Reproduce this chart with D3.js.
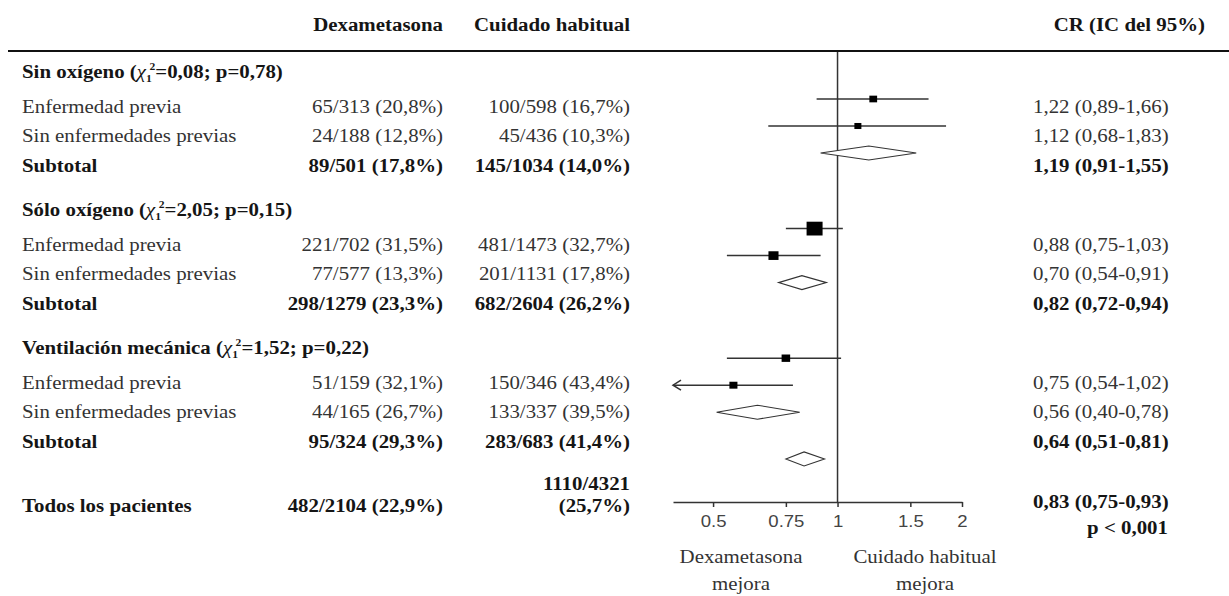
<!DOCTYPE html>
<html>
<head>
<meta charset="utf-8">
<script src="https://cdn.jsdelivr.net/npm/d3@7"></script>
<style>
  html, body { margin: 0; padding: 0; background: #fff; }
  svg { display: block; }
  text.serif { font-family: 'Liberation Serif', 'Times New Roman', 'DejaVu Serif', serif; }
</style>
</head>
<body>
<div id="chart"></div>
<script>
// Datos
const groups = ['Sin oxígeno', 'Sólo oxígeno', 'Ventilación mecánica'];
const chiValues = ['0,08', '2,05', '1,52'];
const pValues = ['0,78', '0,15', '0,22'];
const rowLabels = ['Enfermedad previa', 'Sin enfermedades previas', 'Subtotal'];

const dexEvents = [[65, 24, 89], [221, 77, 298], [51, 44, 95]];
const dexTotal = [[313, 188, 501], [702, 577, 1279], [159, 165, 324]];
const ucEvents = [[100, 45, 145], [481, 201, 682], [150, 133, 283]];
const ucTotal = [[598, 436, 1034], [1473, 1131, 2604], [346, 337, 683]];

const rr = [[1.22, 1.12, 1.19], [0.88, 0.70, 0.82], [0.75, 0.56, 0.64]];
const rrLow = [[0.89, 0.68, 0.91], [0.75, 0.54, 0.72], [0.54, 0.40, 0.51]];
const rrHigh = [[1.66, 1.83, 1.55], [1.03, 0.91, 0.94], [1.02, 0.78, 0.81]];

const overallLabel = 'Todos los pacientes';
const overallDex = [482, 2104];
const overallUc = [1110, 4321];
const overallRR = [0.83, 0.75, 0.93];
const overallP = 'p < 0,001';

const axisTicks = [0.5, 0.75, 1, 1.5, 2];
const headers = ['Dexametasona', 'Cuidado habitual', 'CR (IC del 95%)'];
const favours = [['Dexametasona', 'mejora'], ['Cuidado habitual', 'mejora']];

// Layout
const W = 1229, H = 596;
const SX = 1.16;          // la imagen original esta estirada horizontalmente
const FS = 18;
const colDex = 443, colUc = 630, colCR = 1033, colLabel = 22;

const svg = d3.select('#chart').append('svg')
  .attr('width', W).attr('height', H);

svg.append('rect').attr('width', W).attr('height', H).attr('fill', '#fff');

function txt(x, y, str, opts = {}) {
  const t = svg.append('text')
    .attr('class', 'serif')
    .attr('font-family', 'Liberation Serif')
    .attr('transform', `translate(${x},${y}) scale(${SX},1)`)
    .attr('text-anchor', opts.anchor || 'start')
    .attr('font-size', opts.size || FS)
    .attr('font-weight', opts.bold ? 'bold' : 'normal')
    .attr('fill', opts.bold ? '#151515' : '#333');
  if (str !== null) t.text(str);
  return t;
}

const pct = (e, n) => d3.format('.1f')(e / n * 100).replace('.', ',');
const frac = (e, n) => `${e}/${n} (${pct(e, n)}%)`;
const f2 = v => d3.format('.2f')(v).replace('.', ',');
const ci = (m, l, h) => `${f2(m)} (${f2(l)}-${f2(h)})`;

// Escalas
const x = d3.scaleLog().domain([0.4, 2]).range([673, 962]);
const axisY = 502;
const rowY = (g, r) => 112.5 + g * 138 + r * 29.5;
// los marcadores del grafico siguen su propio espaciado
const markY = d3.scaleLinear().domain([0, 1]).range([99, 126]);
const markSlot = (g, r) => g * 4.8 + r;
const overallSlot = 13.33;
const sqSize = d3.scaleSqrt().domain([0, 702]).range([0, 16]);

// Cabecera
txt(colDex, 31, headers[0], { anchor: 'end', bold: true });
txt(colUc, 31, headers[1], { anchor: 'end', bold: true });
txt(1205, 31, headers[2], { anchor: 'end', bold: true });

svg.append('line')
  .attr('x1', 8).attr('x2', W).attr('y1', 51).attr('y2', 51)
  .attr('stroke', '#111').attr('stroke-width', 2);

// Linea de no efecto
svg.append('line')
  .attr('x1', x(1)).attr('x2', x(1)).attr('y1', 52).attr('y2', axisY)
  .attr('stroke', '#333').attr('stroke-width', 1.5);

// Filas de texto
groups.forEach((name, g) => {
  const hy = rowY(g, 0) - 35;
  const t = txt(colLabel, hy, null, { bold: true });
  t.append('tspan').text(name + ' (');
  t.append('tspan').attr('font-style', 'italic').attr('font-weight', 'normal').text('χ');
  t.append('tspan').attr('font-size', 10).attr('dy', 4).text('1');
  t.append('tspan').attr('font-size', 10).attr('dx', -2).attr('dy', -12).text('2');
  t.append('tspan').attr('dy', 8).text(`=${chiValues[g]}; p=${pValues[g]})`);

  rowLabels.forEach((lab, r) => {
    const y = rowY(g, r);
    const bold = r === 2;
    txt(colLabel, y, lab, { bold });
    txt(colDex, y, frac(dexEvents[g][r], dexTotal[g][r]), { anchor: 'end', bold });
    txt(colUc, y, frac(ucEvents[g][r], ucTotal[g][r]), { anchor: 'end', bold });
    txt(colCR, y, ci(rr[g][r], rrLow[g][r], rrHigh[g][r]), { bold });
  });
});

// Todos los pacientes
const oy = 511.5;
txt(colLabel, oy, overallLabel, { bold: true });
txt(colDex, oy, frac(overallDex[0], overallDex[1]), { anchor: 'end', bold: true });
txt(colUc, oy - 22, `${overallUc[0]}/${overallUc[1]}`, { anchor: 'end', bold: true });
txt(colUc, oy, `(${pct(overallUc[0], overallUc[1])}%)`, { anchor: 'end', bold: true });
txt(colCR, oy - 4, ci(overallRR[0], overallRR[1], overallRR[2]), { bold: true });
txt(1168, oy + 22, overallP, { anchor: 'end', bold: true });

// Marcadores
const plot = svg.append('g');
groups.forEach((name, g) => {
  rowLabels.forEach((lab, r) => {
    const y = markY(markSlot(g, r));
    const m = rr[g][r], lo = rrLow[g][r], hi = rrHigh[g][r];
    if (r < 2) {
      const clipped = lo <= x.domain()[0];
      const x0 = clipped ? x.range()[0] : x(lo);
      plot.append('line')
        .attr('x1', x0).attr('x2', x(hi)).attr('y1', y).attr('y2', y)
        .attr('stroke', '#333').attr('stroke-width', 1.5);
      if (clipped) {
        plot.append('path')
          .attr('d', `M${x0 + 8},${y - 5} L${x0},${y} L${x0 + 8},${y + 5}`)
          .attr('fill', 'none').attr('stroke', '#333').attr('stroke-width', 1.5);
      }
      const s = Math.max(7, sqSize(dexEvents[g][r] + ucEvents[g][r]));
      plot.append('rect')
        .attr('x', x(m) - s / 2).attr('y', y - s / SX / 2)
        .attr('width', s).attr('height', s / SX)
        .attr('fill', '#000');
    } else {
      plot.append('path')
        .attr('d', `M${x(lo)},${y} L${x(m)},${y - 7} L${x(hi)},${y} L${x(m)},${y + 7} Z`)
        .attr('fill', '#fff').attr('stroke', '#333').attr('stroke-width', 1.1);
    }
  });
});

const yo = markY(overallSlot);
plot.append('path')
  .attr('d', `M${x(overallRR[1])},${yo} L${x(overallRR[0])},${yo - 7} L${x(overallRR[2])},${yo} L${x(overallRR[0])},${yo + 7} Z`)
  .attr('fill', '#fff').attr('stroke', '#333').attr('stroke-width', 1.1);

// Eje
const axisG = svg.append('g')
  .attr('transform', `translate(0,${axisY})`)
  .call(d3.axisBottom(x).tickValues(axisTicks).tickFormat(d => String(d))
    .tickSize(5).tickSizeOuter(0).tickPadding(9));
axisG.select('.domain').attr('stroke', '#333').attr('stroke-width', 1.5);
axisG.selectAll('.tick line').attr('stroke', '#333').attr('stroke-width', 1.5);
axisG.selectAll('.tick text')
  .attr('font-family', 'Liberation Sans, Arial, sans-serif')
  .attr('font-size', 16)
  .attr('fill', '#444')
  .attr('transform', `scale(${SX},1)`);

// Leyenda inferior
favours.forEach((lines, i) => {
  const cx = i === 0 ? 741 : 925;
  lines.forEach((l, j) => txt(cx, 563 + j * 27, l, { anchor: 'middle' }));
});
</script>
</body>
</html>
